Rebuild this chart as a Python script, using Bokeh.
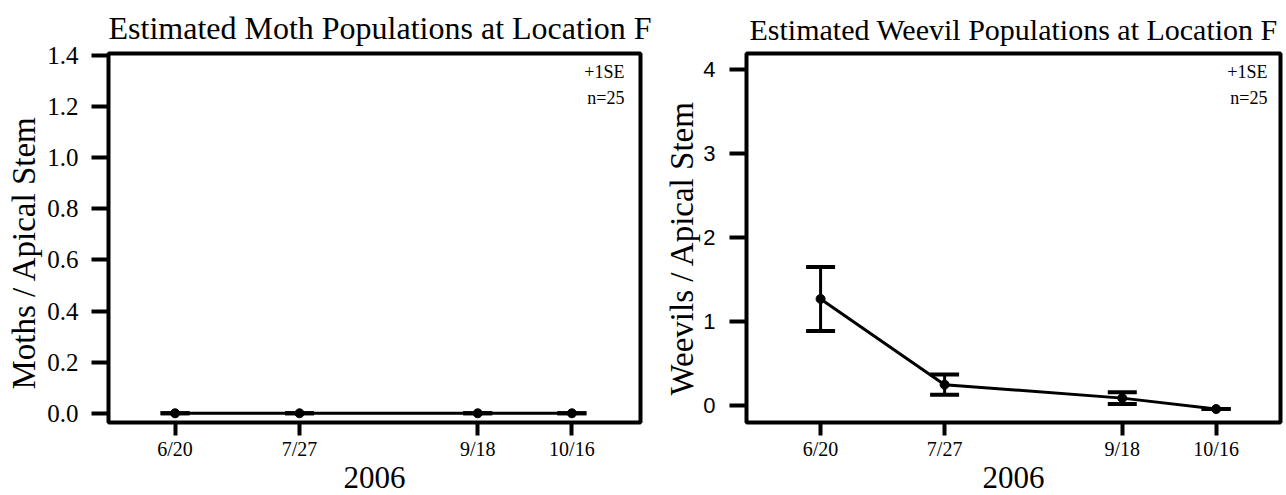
from datetime import date

from bokeh.embed import file_html
from bokeh.layouts import row
from bokeh.models import ColumnDataSource, FixedTicker, Label, Range1d, TeeHead, Title, Whisker
from bokeh.plotting import figure
from bokeh.resources import INLINE

# ---------------- data ----------------
year = 2006
dates = ["6/20", "7/27", "9/18", "10/16"]
moths = [0.0, 0.0, 0.0, 0.0]
moths_se = [0.0, 0.0, 0.0, 0.0]
weevils = [1.27, 0.25, 0.09, -0.04]
weevils_se = [0.38, 0.12, 0.07, 0.0]
moth_yticks = [0.0, 0.2, 0.4, 0.6, 0.8, 1.0, 1.2, 1.4]
weevil_yticks = [0, 1, 2, 3, 4]
moth_title = "Estimated Moth Populations at Location F"
weevil_title = "Estimated Weevil Populations at Location F"
moth_ylabel = "Moths / Apical Stem"
weevil_ylabel = "Weevils / Apical Stem"
xlabel = "2006"
note_lines = ["+1SE", "n=25"]


def doy(s):
    m, d = s.split("/")
    return date(year, int(m), int(d)).timetuple().tm_yday


days = [doy(s) for s in dates]

SERIF = "Liberation Serif"
SANS = "Liberation Sans"
H = 495


def make_panel(width, borders, xr, yr, yticks, ytick_font, ytick_size, yfmt,
               ytick_standoff, title, title_size, title_offset,
               ylabel, ylabel_offset, ylabel_standoff, note_dx, vals, ses):
    ml, mr, mt, mb = borders
    p = figure(width=width, height=H, x_range=Range1d(*xr), y_range=Range1d(*yr),
               output_backend="svg", toolbar_location=None,
               min_border_left=ml, min_border_right=mr,
               min_border_top=mt, min_border_bottom=mb)
    p.grid.visible = False
    p.outline_line_color = "black"
    p.outline_line_width = 4
    p.outline_line_alpha = 1.0

    # title
    p.title.text = title
    p.title.text_font = SERIF
    p.title.text_font_size = f"{title_size}px"
    p.title.text_font_style = "normal"
    p.title.text_color = "black"
    p.title.align = "left"
    p.title.offset = title_offset
    p.title.standoff = 15

    # x axis
    xa = p.xaxis[0]
    xa.ticker = FixedTicker(ticks=days)
    xa.major_label_overrides = {d: s for d, s in zip(days, dates)}
    xa.axis_line_color = None
    xa.major_tick_line_width = 4
    xa.major_tick_line_color = "black"
    xa.major_tick_out = 13
    xa.major_tick_in = 0
    xa.minor_tick_line_color = None
    xa.major_label_text_font = SERIF
    xa.major_label_text_font_size = "20px"
    xa.major_label_text_color = "black"
    xa.major_label_standoff = 2
    xa.axis_label = xlabel
    xa.axis_label_text_font = SERIF
    xa.axis_label_text_font_size = "31px"
    xa.axis_label_text_font_style = "normal"
    xa.axis_label_text_color = "black"
    xa.axis_label_standoff = 4

    # y axis (ticks + tick labels); the axis title is a side Title
    ya = p.yaxis[0]
    ya.ticker = FixedTicker(ticks=yticks)
    ya.major_label_overrides = {t: yfmt.format(t) for t in yticks}
    ya.axis_line_color = None
    ya.major_tick_line_width = 4
    ya.major_tick_line_color = "black"
    ya.major_tick_out = 17
    ya.major_tick_in = 0
    ya.minor_tick_line_color = None
    ya.major_label_text_font = ytick_font
    ya.major_label_text_font_size = f"{ytick_size}px"
    ya.major_label_text_color = "black"
    ya.major_label_standoff = ytick_standoff

    p.add_layout(Title(text=ylabel, align="left", offset=ylabel_offset,
                       standoff=ylabel_standoff, text_font=SERIF,
                       text_font_size="33px", text_font_style="normal",
                       text_color="black"), "left")

    src = ColumnDataSource(dict(
        x=days, y=vals,
        upper=[v + s for v, s in zip(vals, ses)],
        lower=[v - s for v, s in zip(vals, ses)],
    ))
    w = Whisker(source=src, base="x", upper="upper", lower="lower",
                line_color="black", line_width=3,
                upper_head=TeeHead(size=29, line_width=4, line_color="black"),
                lower_head=TeeHead(size=29, line_width=4, line_color="black"))
    p.add_layout(w)
    p.line("x", "y", source=src, line_color="black", line_width=3)
    p.scatter("x", "y", source=src, size=9, marker="circle",
              fill_color="black", line_color="black")

    for i, t in enumerate(note_lines):
        p.add_layout(Label(x=xr[1], y=yr[1], x_offset=note_dx, y_offset=-8 - 26 * i,
                           text=t, text_align="right", text_baseline="top",
                           text_font=SERIF, text_font_size="18px",
                           text_color="black"))
    return p


p1 = make_panel(656, (105, 16, 52, 73), (151.2, 309.4), (-0.036, 1.408),
                moth_yticks, SERIF, 25, "{:.1f}", 13,
                moth_title, 32, 0, moth_ylabel, 33, 6, -16, moths, moths_se)
p2 = make_panel(630, (90, 6, 52, 73), (148.9, 308.2), (-0.2, 4.19),
                weevil_yticks, SANS, 22, "{:d}", 14,
                weevil_title, 30, 3, weevil_ylabel, 27, 2, -13, weevils, weevils_se)

layout = row(p1, p2, spacing=0)
open("out.html", "w").write(file_html(layout, INLINE))
